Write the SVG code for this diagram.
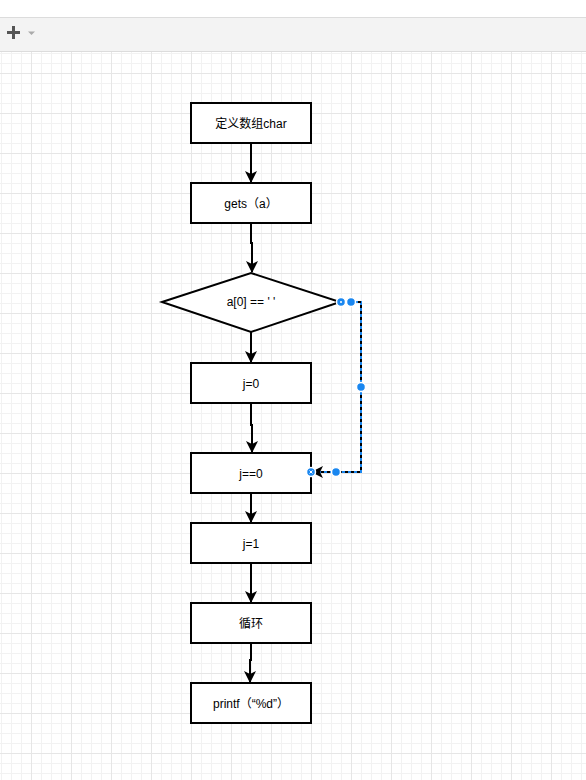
<svg xmlns="http://www.w3.org/2000/svg" width="586" height="780" viewBox="0 0 586 780">
<defs>
<pattern id="minor" x="1" y="3" width="10" height="10" patternUnits="userSpaceOnUse">
<path d="M0 0.5H10M0.5 0V10" fill="none" stroke="#f2f2f2" stroke-width="1"/>
</pattern>
<pattern id="major" x="31" y="33" width="40" height="40" patternUnits="userSpaceOnUse">
<path d="M0 0.5H40M0.5 0V40" fill="none" stroke="#e6e6e6" stroke-width="1"/>
</pattern>
<marker id="arr" viewBox="0 0 12 12" refX="11" refY="6" markerWidth="12" markerHeight="12" markerUnits="userSpaceOnUse" orient="auto">
<path d="M0 0 L12 6 L0 12 L3 6 Z" fill="#000"/>
</marker>
</defs>
<style>
.box{fill:#fff;stroke:#000;stroke-width:2}
.lbl{font-family:"Liberation Sans","Noto Sans CJK SC",sans-serif;font-size:12px;fill:#000;text-anchor:middle;dominant-baseline:central}
.edge{fill:none;stroke:#000;stroke-width:2;marker-end:url(#arr)}
.h{fill:#1a87f0;stroke:#fff;stroke-width:1.5}
</style>
<rect width="586" height="780" fill="#fff"/>
<rect x="0" y="52" width="586" height="728" fill="url(#minor)"/>
<rect x="0" y="52" width="586" height="728" fill="url(#major)"/>
<g id="toolbar">
<rect x="0" y="17" width="586" height="35" fill="#f3f3f3"/>
<line x1="0" y1="17.5" x2="586" y2="17.5" stroke="#dcdcdc"/>
<line x1="0" y1="51.5" x2="586" y2="51.5" stroke="#dcdcdc"/>
<path d="M7 32.5H20M13.5 26V39" stroke="#555" stroke-width="3"/>
<path d="M28 31.5H35L31.5 35Z" fill="#aaa"/>
</g>
<g id="connectors">
<path class="edge" d="M251 143V182"/>
<path class="edge" d="M251 223V243H252V272"/>
<path class="edge" d="M251 332V362"/>
<path class="edge" d="M251 403V425H252V452"/>
<path class="edge" d="M251 493V522"/>
<path class="edge" d="M251 563V602"/>
<path class="edge" d="M251 643V660H250V682"/>
<path d="M340 302H361V472H312" fill="none" stroke="#1a87f0" stroke-width="2"/>
<path class="edge" d="M340 302H361V472H312" stroke-dasharray="3 3"/>
</g>
<g id="n1"><rect class="box" x="191" y="103" width="120" height="40"/><text class="lbl" x="251" y="124">定义数组char</text></g>
<g id="n2"><rect class="box" x="191" y="183" width="120" height="40"/><text class="lbl" x="251" y="204">gets（a）</text></g>
<g id="n3"><polygon class="box" points="162,302 251,273 340,302 251,332"/><text class="lbl" x="251" y="302">a[0] == ' '</text></g>
<g id="n4"><rect class="box" x="191" y="363" width="120" height="40"/><text class="lbl" x="251" y="384">j=0</text></g>
<g id="n5"><rect class="box" x="191" y="453" width="120" height="40"/><text class="lbl" x="251" y="474">j==0</text></g>
<g id="n6"><rect class="box" x="191" y="523" width="120" height="40"/><text class="lbl" x="251" y="544">j=1</text></g>
<g id="n7"><rect class="box" x="191" y="603" width="120" height="40"/><text class="lbl" x="251" y="624">循环</text></g>
<g id="n8"><rect class="box" x="191" y="683" width="120" height="40"/><text class="lbl" x="251" y="704">printf（“%d”）</text></g>
<g id="handles">
<circle class="h" cx="341" cy="302" r="4.5"/><circle cx="341" cy="302" r="1" fill="#fff"/>
<circle class="h" cx="351" cy="302" r="4.5"/>
<circle class="h" cx="361" cy="387" r="4.5"/>
<circle class="h" cx="336" cy="472" r="4.5"/>
<circle class="h" cx="311" cy="472" r="4.5"/>
<path d="M309.5 470.5L312.5 473.5M312.5 470.5L309.5 473.5" stroke="#fff" stroke-width="1"/>
</g>
</svg>
